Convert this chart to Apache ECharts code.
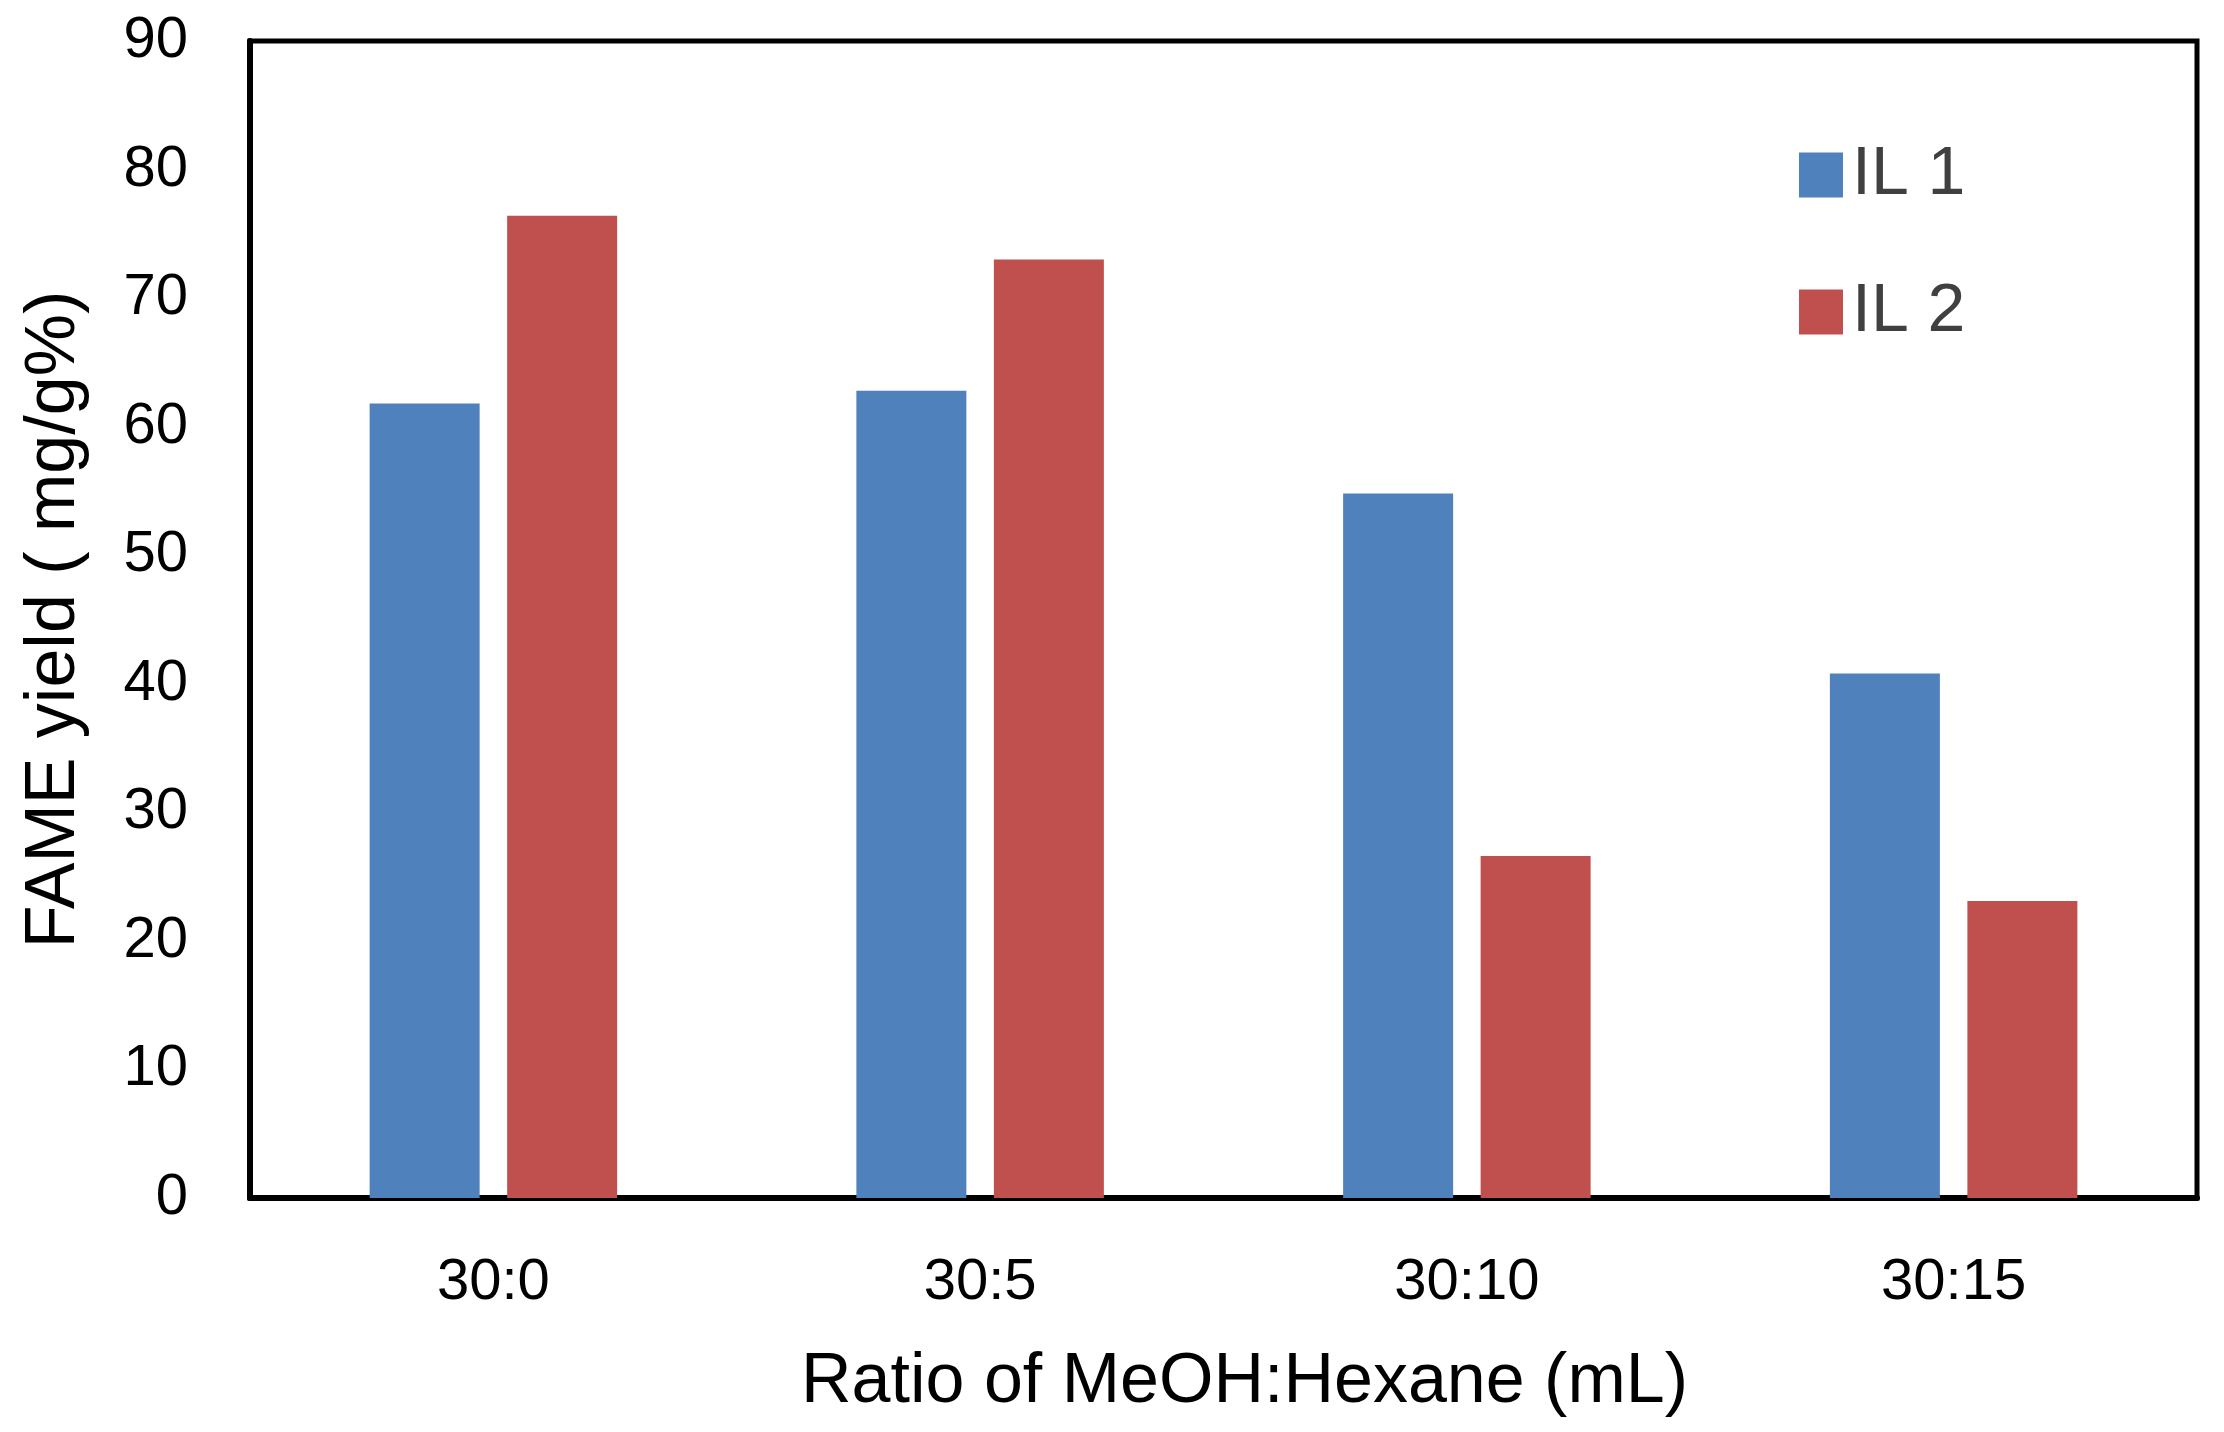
<!DOCTYPE html>
<html>
<head>
<meta charset="utf-8">
<script src="https://cdn.jsdelivr.net/npm/echarts@6/dist/echarts.min.js"></script>
<style>
html,body{margin:0;padding:0;background:#fff;}
#chart{width:2224px;height:1432px;}
</style>
</head>
<body>
<div id="chart"></div>
<script>
const categories = ['30:0', '30:5', '30:10', '30:15'];
const il1Values = [61.8, 62.8, 54.8, 40.8];
const il2Values = [76.4, 73.0, 26.6, 23.1];
const seriesNames = ['IL 1', 'IL 2'];
const xAxisTitle = 'Ratio of MeOH:Hexane (mL)';
const yAxisTitle = 'FAME yield ( mg/g%)';

const FONT = '"Liberation Sans", Arial, sans-serif';
const chart = echarts.init(document.getElementById('chart'), null, {renderer: 'canvas'});
chart.setOption({
  animation: false,
  backgroundColor: '#ffffff',
  grid: {
    left: 250, right: 27, top: 41, bottom: 234,
    show: true, borderColor: '#000', borderWidth: 5, backgroundColor: 'transparent'
  },
  legend: {
    orient: 'vertical',
    left: 1794, top: 136,
    itemWidth: 44, itemHeight: 45, itemGap: 69,
    icon: 'rect',
    data: seriesNames,
    textStyle: {fontFamily: FONT, fontSize: 68, color: '#404040', lineHeight: 45, padding: [0, 0, 0, 4]}
  },
  xAxis: {
    type: 'category',
    data: categories,
    axisTick: {show: false},
    axisLine: {show: true, lineStyle: {color: '#000', width: 6}},
    axisLabel: {fontFamily: FONT, fontSize: 58, color: '#000', margin: 56},
    name: xAxisTitle,
    nameLocation: 'middle',
    nameGap: 150,
    nameTextStyle: {fontFamily: FONT, fontSize: 70, color: '#000', padding: [0, 0, 0, 42]}
  },
  yAxis: {
    type: 'value',
    min: 0, max: 90, interval: 10,
    splitLine: {show: false},
    axisTick: {show: false},
    axisLine: {show: true, lineStyle: {color: '#000', width: 6}},
    axisLabel: {fontFamily: FONT, fontSize: 58, color: '#000', margin: 62},
    name: yAxisTitle,
    nameLocation: 'middle',
    nameGap: 160,
    nameTextStyle: {fontFamily: FONT, fontSize: 70, color: '#000'}
  },
  series: [
    {name: seriesNames[0], type: 'bar', data: il1Values, barWidth: 110, barGap: '25%',
     itemStyle: {color: '#4F81BD'}},
    {name: seriesNames[1], type: 'bar', data: il2Values, barWidth: 110, barGap: '25%',
     itemStyle: {color: '#C0504D'}}
  ]
});
</script>
</body>
</html>
